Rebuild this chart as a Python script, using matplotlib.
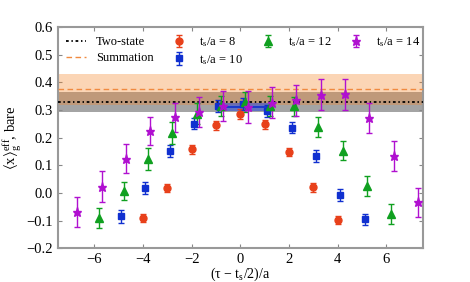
import matplotlib
matplotlib.use("Agg")
import matplotlib.pyplot as plt
import numpy as np

# ---------------- data ----------------
x8 = [-4, -3, -2, -1, 0, 1, 2, 3, 4]
y8 = [-0.091, 0.018, 0.158, 0.244, 0.285, 0.248, 0.148, 0.020, -0.099]
e8 = [0.015, 0.015, 0.016, 0.017, 0.017, 0.017, 0.016, 0.015, 0.015]

x10 = [-4.9, -3.9, -2.9, -1.9, -0.9, 0.1, 1.1, 2.1, 3.1, 4.1, 5.1]
y10 = [-0.085, 0.018, 0.151, 0.251, 0.314, 0.321, 0.297, 0.236, 0.134, -0.009, -0.095]
e10 = [0.023, 0.023, 0.021, 0.021, 0.021, 0.021, 0.021, 0.021, 0.021, 0.022, 0.020]

x12 = [-5.8, -4.8, -3.8, -2.8, -1.8, -0.8, 0.2, 1.2, 2.2, 3.2, 4.2, 5.2, 6.2]
y12 = [-0.091, 0.006, 0.124, 0.218, 0.287, 0.313, 0.330, 0.314, 0.313, 0.239, 0.153, 0.026, -0.076]
e12 = [0.035, 0.033, 0.040, 0.040, 0.038, 0.036, 0.036, 0.036, 0.035, 0.035, 0.035, 0.036, 0.035]

x14 = [-6.7, -5.7, -4.7, -3.7, -2.7, -1.7, -0.7, 0.3, 1.3, 2.3, 3.3, 4.3, 5.3, 6.3, 7.3]
y14 = [-0.069, 0.023, 0.124, 0.224, 0.273, 0.293, 0.314, 0.311, 0.326, 0.335, 0.356, 0.357, 0.271, 0.133, -0.034]
e14 = [0.054, 0.055, 0.053, 0.052, 0.054, 0.054, 0.054, 0.057, 0.056, 0.057, 0.056, 0.056, 0.055, 0.054, 0.053]

two_state = 0.329
two_state_err = 0.036
summation = 0.375
summation_err = 0.057
fit10_range = [-1.0, 1.2]
fit10_val = 0.311
fit10_err = 0.013

# ---------------- plot ----------------
plt.rcParams['font.family'] = ['Liberation Serif', 'DejaVu Serif']
plt.rcParams['mathtext.fontset'] = 'custom'
plt.rcParams['mathtext.rm'] = 'Liberation Serif'
plt.rcParams['mathtext.it'] = 'Liberation Serif:italic'
plt.rcParams['mathtext.fallback'] = 'stix'
plt.rcParams['font.size'] = 9.5

fig = plt.figure(figsize=(4.7, 2.82), dpi=100)
ax = fig.add_axes([0.123, 0.12, 0.777, 0.784])

xl = (-7.5, 7.5)
ax.fill_between(xl, two_state - two_state_err, two_state + two_state_err,
                color='#a4a4a4', lw=0, zorder=1)
ax.fill_between(xl, summation - summation_err, summation + summation_err,
                color='#f4872c', alpha=0.35, lw=0, zorder=2)
ax.plot(xl, [two_state]*2, color='black', lw=1.3, ls=(0, (1.5, 1.5, 0.8, 1.5)),
        zorder=3, label='Two-state')
ax.plot(xl, [summation]*2, color='#f08a40', lw=1.0, ls=(0, (4, 2.5)),
        zorder=3, label='Summation')

ax.fill_between(fit10_range, fit10_val - fit10_err, fit10_val + fit10_err,
                color='#2040e0', alpha=0.5, lw=0, zorder=4)
ax.plot(fit10_range, [fit10_val]*2, color='#1030d0', lw=1.2, zorder=4)

series = [
    (x8, y8, e8, 'o', '#e8401a', r'$\mathrm{t_s/a\,{=}\,8}$', 5),
    (x10, y10, e10, 's', '#1030d0', r'$\mathrm{t_s/a\,{=}\,10}$', 5),
    (x12, y12, e12, '^', '#10a020', r'$\mathrm{t_s/a\,{=}\,12}$', 5.5),
    (x14, y14, e14, '*', '#b010d0', r'$\mathrm{t_s/a\,{=}\,14}$', 6.5),
]
for xs, ys, es, m, c, lab, ms in series:
    ax.errorbar(xs, ys, yerr=es, fmt=m, color=c, ms=ms, mec=c, ecolor=c,
                elinewidth=1.0, capsize=2, capthick=1.0, zorder=5, label=lab)

ax.set_xlim(*xl)
ax.set_ylim(-0.2, 0.6)
ax.set_xticks([-6, -4, -2, 0, 2, 4, 6])
ax.set_xticklabels(['\u22126', '\u22124', '\u22122', '0', '2', '4', '6'])
ax.set_yticks(np.arange(-0.2, 0.61, 0.1))
ax.set_yticklabels(['\u22120.2', '\u22120.1', '0.0', '0.1', '0.2', '0.3', '0.4', '0.5', '0.6'])
ax.tick_params(direction='in', top=True, right=True, length=3, width=0.8,
               color='#888888', labelsize=10.5, pad=3.5)
for s in ax.spines.values():
    s.set_color('#999999')
    s.set_linewidth(1.5)

ax.set_xlabel('(\u03c4 \u2212 t$_\\mathrm{s}$/2)/a', fontsize=10, labelpad=0)
ax.set_ylabel(r'$\langle \mathrm{x}\rangle_\mathrm{g}^\mathrm{eff}$, bare', fontsize=10.5, labelpad=2)

ax.legend(loc='upper left', bbox_to_anchor=(0.0, 1.0), ncol=4, frameon=False,
          fontsize=9, handlelength=1.6, columnspacing=1.2, handletextpad=0.8,
          labelspacing=0.3, borderaxespad=0.2, borderpad=0.45)

fig.savefig('out.png', dpi=100)
